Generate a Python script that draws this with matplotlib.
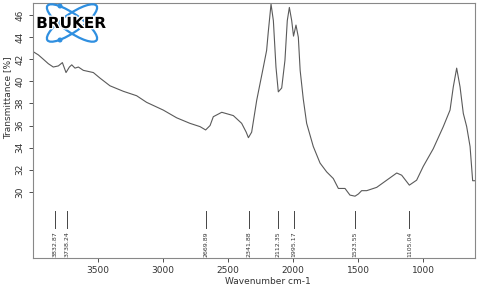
import matplotlib
matplotlib.use('Agg')
import matplotlib.pyplot as plt
import matplotlib.patheffects as pe
from matplotlib.patches import Ellipse, Circle

# spectrum
wavenumber = [4000, 3959, 3920, 3882, 3844, 3805, 3774, 3746, 3720, 3702, 3677, 3651, 3613,
              3536, 3485, 3408, 3305, 3203, 3126, 2998, 2895, 2793, 2715, 2672, 2638, 2613,
              2548, 2459, 2395, 2360, 2343, 2318, 2279, 2228, 2203, 2190, 2169, 2151, 2131,
              2113, 2087, 2062, 2044, 2028, 2010, 1996, 1977, 1959, 1945, 1921, 1895, 1844,
              1792, 1741, 1690, 1651, 1600, 1562, 1523, 1497, 1472, 1433, 1356, 1279, 1202,
              1164, 1105, 1049, 998, 921, 844, 792, 767, 741, 715, 690, 664, 638, 618, 600]
transmittance = [42.7, 42.4, 42.0, 41.6, 41.3, 41.4, 41.7, 40.8, 41.3, 41.5, 41.2, 41.3, 41.0,
                 40.8, 40.3, 39.6, 39.1, 38.7, 38.1, 37.4, 36.7, 36.2, 35.9, 35.6, 36.0, 36.8,
                 37.2, 36.9, 36.2, 35.4, 34.9, 35.4, 38.3, 41.3, 42.8, 44.5, 47.0, 45.5, 41.3,
                 39.05, 39.4, 41.9, 45.5, 46.7, 45.5, 44.1, 45.1, 44.0, 41.0, 38.4, 36.2, 34.1,
                 32.6, 31.8, 31.2, 30.3, 30.3, 29.7, 29.6, 29.8, 30.1, 30.1, 30.4, 31.05, 31.7,
                 31.5, 30.6, 31.05, 32.3, 33.9, 35.9, 37.4, 39.5, 41.2, 39.5, 37.1, 35.9, 34.1,
                 31.0, 31.0]

peak_labels = ['3832.87', '3738.24', '2669.89', '2341.88', '2112.35', '1995.17', '1523.55', '1105.04']
peak_positions = [3832.87, 3738.24, 2669.89, 2341.88, 2112.35, 1995.17, 1523.55, 1105.04]

x_ticks = [3500, 3000, 2500, 2000, 1500, 1000]
y_ticks = [30, 32, 34, 36, 38, 40, 42, 44, 46]

fig = plt.figure(figsize=(4.8, 2.88), dpi=100)
ax = fig.add_axes([33 / 480, 1 - 258 / 288, 442 / 480, 255 / 288])

ax.plot(wavenumber, transmittance, color='#5a5a5a', linewidth=0.8)
ax.set_xlim(4000, 600)
ax.set_ylim(24.0, 47.1)

# peak markers
for pos, lab in zip(peak_positions, peak_labels):
    ax.plot([pos, pos], [26.7, 28.3], color='#444444', linewidth=0.7)
    ax.text(pos, 26.4, lab, rotation=90, ha='center', va='top', fontsize=4.5, color='#333333')

ax.set_xticks(x_ticks)
ax.set_yticks(y_ticks)
ax.set_yticklabels([str(v) for v in y_ticks], rotation=90, va='center')
ax.tick_params(axis='both', labelsize=6.5, colors='#333333', length=3, width=0.6, direction='out', pad=3)
for s in ax.spines.values():
    s.set_color('#888888')
    s.set_linewidth(0.8)

ax.set_xlabel('Wavenumber cm-1', fontsize=6.5, color='#333333')
ax.set_ylabel('Transmittance [%]', fontsize=6.5, color='#333333')
ax.xaxis.set_label_coords((268 - 33) / 442, (258 - 277) / 255)
ax.yaxis.set_label_coords((12 - 33) / 442, (258 - 98) / 255)

# Bruker logo
logo = fig.add_axes([35 / 480, 1 - 43 / 288, 73 / 480, 40 / 288])
logo.set_xlim(0, 73)
logo.set_ylim(40, 0)
logo.axis('off')
blue = '#2f8fe0'
for ang in (35, -35):
    logo.add_patch(Ellipse((37, 20), 60, 18, angle=ang, fill=False, edgecolor=blue, linewidth=1.6))
logo.add_patch(Circle((25, 3), 1.8, color=blue))
logo.add_patch(Circle((25, 37), 1.8, color=blue))
logo.text(36, 20.5, 'BRUKER', ha='center', va='center', fontsize=11, fontweight='bold',
          color='black', path_effects=[pe.withStroke(linewidth=2, foreground='white')])

fig.savefig('out.png', dpi=100)
